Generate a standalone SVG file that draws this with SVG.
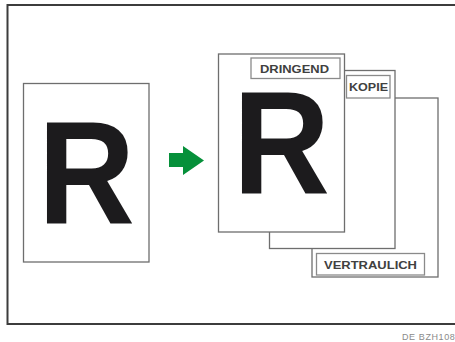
<svg xmlns="http://www.w3.org/2000/svg" width="455" height="342" viewBox="0 0 455 342">
<style>
.page{fill:#fff;stroke:#6e6e6e;stroke-width:1.3}
.lbl{fill:#fff;stroke:#8a8a8a;stroke-width:1.3}
.lt{font-family:"Liberation Sans",Arial,sans-serif;font-weight:bold;font-size:11px;fill:#404040}
.big{font-family:"Liberation Sans",Arial,sans-serif;font-weight:bold;fill:#1c1b1d}
.foot{font-family:"Liberation Sans",Arial,sans-serif;font-size:9px;fill:#8a8a8a;letter-spacing:0.6px}
</style>
<rect x="0" y="0" width="455" height="342" fill="#fff"/>
<rect x="7.5" y="5" width="470" height="319" fill="none" stroke="#3c3c3c" stroke-width="2"/>
<g id="source">
<rect class="page" x="23.5" y="83.5" width="125.5" height="178.5"/>
<text class="big" transform="translate(38 223) scale(0.92 1)" font-size="146">R</text>
</g>
<g id="connectors">
<path d="M169 153 H183 V146 L204 160.5 L183 175 V167 H169 Z" fill="#06903a"/>
</g>
<g id="page3">
<rect class="page" x="312" y="98" width="126" height="179"/>
<rect class="lbl" x="316.5" y="253.5" width="108" height="21.5"/>
<text class="lt" x="324" y="269" textLength="93" lengthAdjust="spacingAndGlyphs">VERTRAULICH</text>
</g>
<g id="page2">
<rect class="page" x="269.5" y="70.5" width="125.5" height="178"/>
<rect class="lbl" x="346.5" y="75.5" width="43.5" height="22.5"/>
<text class="lt" x="349" y="91" textLength="39" lengthAdjust="spacingAndGlyphs">KOPIE</text>
</g>
<g id="page1">
<rect class="page" x="218.5" y="54" width="126" height="178"/>
<rect class="lbl" x="251" y="58" width="89" height="20.5"/>
<text class="lt" x="260" y="73" textLength="69" lengthAdjust="spacingAndGlyphs">DRINGEND</text>
<text class="big" transform="translate(233 193) scale(0.92 1)" font-size="146">R</text>
</g>
<text class="foot" x="402" y="340">DE BZH108</text>
</svg>
